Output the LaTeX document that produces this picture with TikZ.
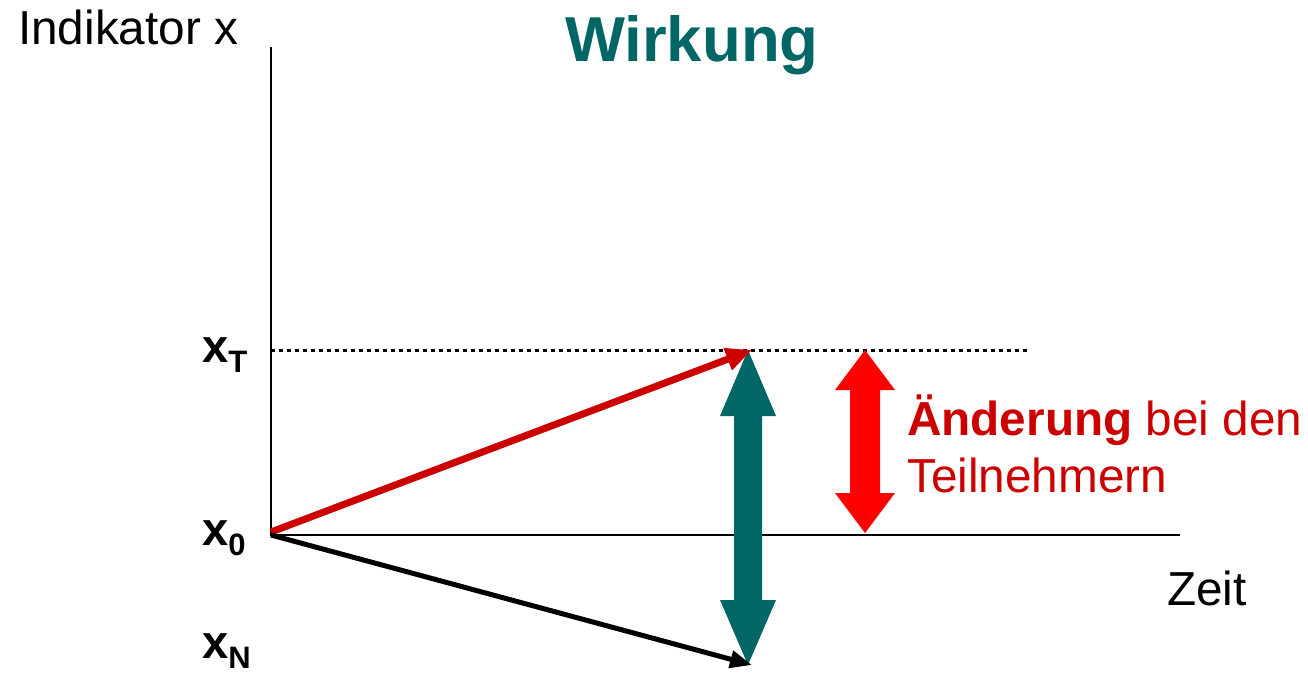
\documentclass[tikz,border=0pt]{standalone}
\usepackage{fontspec}
\setmainfont{Liberation Sans}
\usetikzlibrary{arrows.meta}
\definecolor{teal6}{RGB}{0,102,102}
\definecolor{dred}{RGB}{204,0,0}
\definecolor{bred}{RGB}{255,0,0}
\tikzset{
  lbl/.style={anchor=base west, inner sep=0pt, font=\fontsize{47.7pt}{52pt}\selectfont},
  axis/.style={line width=2pt, black},
}
\newcommand{\subsc}[1]{\raisebox{-10pt}{\fontsize{31pt}{31pt}\selectfont #1}}
\begin{document}
\begin{tikzpicture}[x=1pt,y=-1pt]
\useasboundingbox (0,0) rectangle (1308,677);
\coordinate (top) at (271,47);
\coordinate (O) at (271,535);
\coordinate (xend) at (1180,535);
\coordinate (T0) at (271,350);
\coordinate (Tend) at (1028,350);
\coordinate (R0) at (271,532);
\coordinate (Rtip) at (752,350);
\coordinate (Ntip) at (752,665);
% axes
\draw[axis] (top) -- (O) -- (xend);
\draw[line width=3pt, dash pattern=on 4pt off 4pt] (T0) -- (Tend);
% teal double block arrow
\fill[teal6] (748,350) -- (776,416) -- (762,416) -- (762,600) -- (776,600) -- (748,665)
  -- (720,600) -- (734,600) -- (734,416) -- (720,416) -- cycle;
% red double block arrow
\fill[bred] (865,350) -- (895,390) -- (880,390) -- (880,493) -- (895,493) -- (865,533)
  -- (835,493) -- (850,493) -- (850,390) -- (835,390) -- cycle;
% arrows
\draw[dred, line width=7pt, -{Triangle[length=26pt,width=22pt]}] (R0) -- (Rtip);
\draw[black, line width=5pt, -{Triangle[length=22pt,width=17pt]}] (O) -- (Ntip);
% texts
\node[lbl] (ind) at (18,45) {Indikator x};
\node[lbl, text=teal6, font=\fontsize{63.5pt}{66pt}\selectfont\bfseries] (title) at (565,62) {Wirkung};
\node[lbl] (zeit) at (1167,605) {Zeit};
\node[lbl, text=dred] (aend) at (907,435) {\textbf{Änderung} bei den};
\node[lbl, text=dred] (teil) at (907,492) {Teilnehmern};
\node[lbl, font=\fontsize{47pt}{50pt}\selectfont\bfseries] (xT) at (202,362) {x\subsc{T}};
\node[lbl, font=\fontsize{47pt}{50pt}\selectfont\bfseries] (x0) at (202,545) {x\subsc{0}};
\node[lbl, font=\fontsize{47pt}{50pt}\selectfont\bfseries] (xN) at (202,658) {x\subsc{N}};
\end{tikzpicture}
\end{document}
